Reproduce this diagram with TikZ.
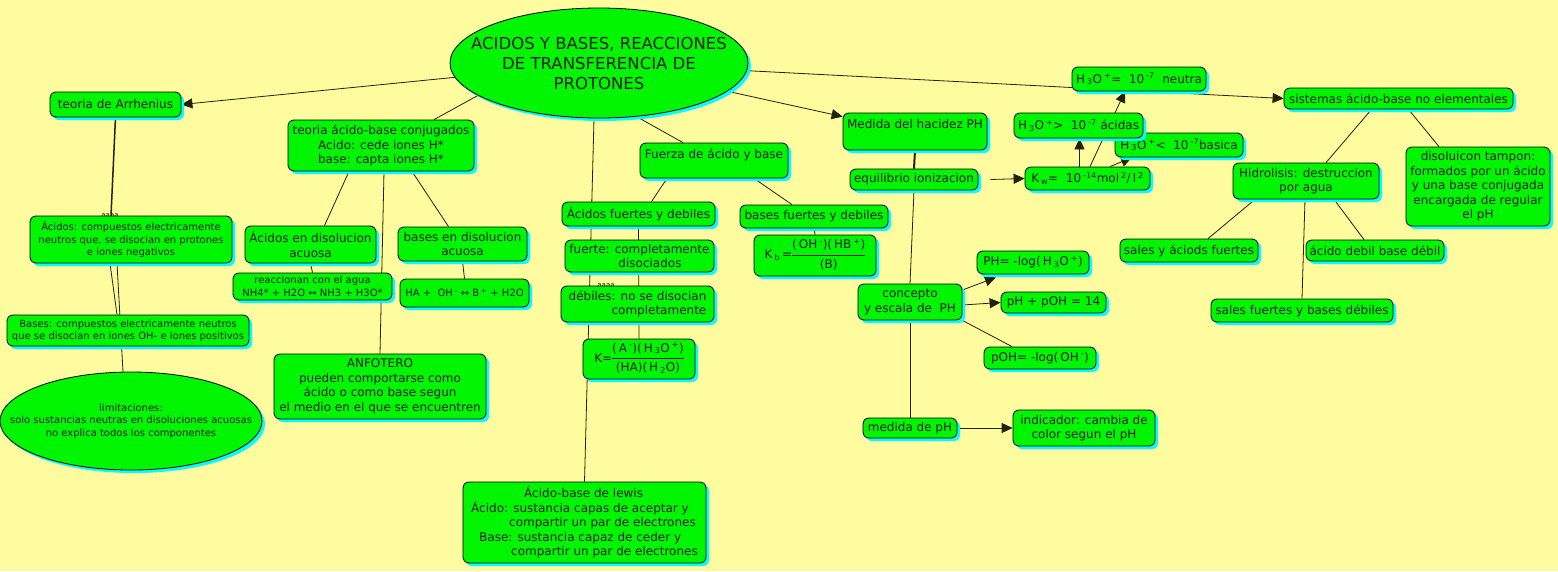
\documentclass[tikz,border=0pt]{standalone}
\usepackage{fontspec}
\setmainfont{DejaVu Sans}
\usetikzlibrary{shapes.geometric,shadows,arrows.meta}
\definecolor{bgc}{HTML}{FFFB9F}
\definecolor{boxgreen}{HTML}{00F500}
\definecolor{shadowc}{HTML}{00FFFF}
\definecolor{textc}{HTML}{102000}
\definecolor{linec}{HTML}{222200}
\newcommand\myfrac[2]{\begin{tabular}{@{}c@{}}#1\\[2pt]\hline\rule{0pt}{13pt}#2\end{tabular}}
\newcommand\sub[1]{\,\textsubscript{#1}}
\newcommand\sups[1]{\,\textsuperscript{#1}}
\pgfdeclarelayer{bg}
\pgfdeclarelayer{lines}
\pgfsetlayers{bg,lines,main}
\tikzset{
  box/.style={draw=black, line width=0.8pt, rounded corners=6pt, fill=boxgreen, text=textc,
    inner sep=2pt, align=center, font=\fontsize{12}{14.5}\selectfont,
    drop shadow={shadow xshift=3pt, shadow yshift=-3pt, fill=shadowc, opacity=1}},
  oval/.style={ellipse, draw=black, line width=0.8pt, fill=boxgreen, inner sep=0pt,
    drop shadow={shadow xshift=3pt, shadow yshift=-3pt, fill=shadowc, opacity=1}},
  small/.style={font=\fontsize{10}{12.5}\selectfont},
  link/.style={draw=linec, line width=0.8pt},
  arrowlink/.style={link, -{Triangle[length=11pt,width=10pt]}},
  tiny/.style={text=textc, font=\fontsize{7}{7}\selectfont, inner sep=0pt},
}
\begin{document}
\begin{tikzpicture}[x=1pt,y=-1pt]
\useasboundingbox (0,0) rectangle (1558,571);
\begin{pgfonlayer}{bg}
\fill[bgc] (0,0) rectangle (1558,571);
\end{pgfonlayer}

% title
\node[oval, minimum width=298pt, minimum height=110pt,
  label={[text=textc, align=center, font=\fontsize{16.5}{20}\selectfont]center:{ACIDOS Y BASES, REACCIONES\\DE TRANSFERENCIA DE\\PROTONES}}] (title) at (599,63) {};

% left column
\node[box, minimum width=131pt, minimum height=25pt] (arrh) at (115.5,104.5) {teoria de Arrhenius};
\node[box, small, minimum width=202pt, minimum height=47pt] (acA) at (131,239.5) {Ácidos: compuestos electricamente\\neutros que, se disocian en protones\\e iones negativos};
\node[box, small, minimum width=242pt, minimum height=31pt] (basA) at (128,330.5) {Bases: compuestos electricamente neutros\\que se disocian en iones OH- e iones positivos};
\node[oval, minimum width=262pt, minimum height=98pt,
  label={[text=textc, align=center, font=\fontsize{10}{12.5}\selectfont]center:{limitaciones:\\solo sustancias neutras en disoluciones acuosas\\no explica todos los componentes}}] (limit) at (131,421) {};

% conjugados
\node[box, minimum width=186pt, minimum height=51pt] (conj) at (381,145.5) {teoria ácido-base conjugados\\Acido: cede iones H*\\base: capta iones H*};
\node[box, minimum width=131pt, minimum height=37pt] (acdis) at (310.5,244.5) {Ácidos en disolucion\\acuosa};
\node[box, small, minimum width=159pt, minimum height=27pt] (reac) at (312.5,286.5) {reaccionan con el agua\\NH4* + H2O ↔ NH3 + H3O*};
\node[box, minimum width=129pt, minimum height=34pt] (bdis) at (462.5,244) {bases en disolucion\\acuosa};
\node[box, small, minimum width=129pt, minimum height=28pt] (ha) at (464.5,293) {HA +\ \ OH\sups{-} ↔ B\sups{+} + H2O};
\node[box, minimum width=212pt, minimum height=65pt] (anfo) at (380,386.5) {ANFOTERO\\pueden comportarse como\\ácido o como base segun\\el medio en el que se encuentren};

% fuerza
\node[box, minimum width=148pt, text height=12pt, text depth=17pt, inner ysep=3pt] (fuerza) at (714,160.5) {Fuerza de ácido y base};
\node[box, minimum width=153pt, minimum height=24pt] (acfd) at (638.5,214) {Ácidos fuertes y debiles};
\node[box, minimum width=149pt, minimum height=32pt] (fuerte) at (639.5,256) {fuerte: completamente\\\hspace*{21pt}disociados};
\node[box, minimum width=153pt, minimum height=36pt, align=right] (debil) at (637.5,304) {débiles: no se disocian\\completamente};
\node[box, minimum width=112pt, minimum height=40pt, inner sep=1pt] (kfrac) at (639,359) {K=\myfrac{(\,A\sups{-})(\,H\sub{3}O\sups{+})}{(HA)(\,H\sub{2}O)}};
\node[box, minimum width=148pt, minimum height=23pt] (bfd) at (814,216.5) {bases fuertes y debiles};
\node[box, minimum width=122pt, minimum height=41pt, inner sep=1pt] (kb) at (815,255.5) {K\sub{b}\,=\myfrac{(\,OH\sups{-})(\,HB\sups{+})}{(B)}};
\node[box, minimum width=243pt, minimum height=81pt, align=left] (lewis) at (584.5,522.5) {\hspace*{53pt}Ácido-base de lewis\\Ácido: sustancia capas de aceptar y\\\hspace*{38pt}compartir un par de electrones\\\hspace*{8pt}Base: sustancia capaz de ceder y\\\hspace*{40pt}compartir un par de electrones};

% pH
\node[box, minimum width=144pt, text height=12pt, text depth=19pt, inner ysep=3pt] (medida) at (915,131.5) {Medida del hacidez PH};
\node[box, minimum width=128pt, minimum height=21pt] (equil) at (914,179.5) {equilibrio ionizacion};
\node[box, minimum width=104pt, minimum height=36pt] (conc) at (910,302) {concepto\\y escala de\ \ PH};
\node[box, minimum width=94pt, minimum height=20pt] (medph) at (910,428) {medida de pH};
\node[box, minimum width=142pt, minimum height=36pt] (ind) at (1084,428) {indicador: cambia de\\color segun el pH};
\node[box, minimum width=112pt, minimum height=23pt] (phlog) at (1033,262.5) {PH= -log(\,H\sub{3}O\sups{+})};
\node[box, minimum width=105pt, minimum height=21pt] (phpoh) at (1053.5,302.5) {pH + pOH = 14};
\node[box, minimum width=112pt, minimum height=22pt] (poh) at (1040,358) {pOH= -log(\,OH\sups{-})};
\node[box, minimum width=125pt, minimum height=23pt] (kw) at (1087.5,178.5) {K\sub{w}=\ \ 10\sups{-14}mol\sups{2}/\,l\sups{2}};
\node[box, minimum width=128pt, minimum height=24pt] (basica) at (1179,145) {H\sub{3}O\sups{+}<\ \ 10\sups{-7}basica};
\node[box, minimum width=129pt, minimum height=25pt] (acidas) at (1078.5,125.5) {H\sub{3}O\sups{+}>\ \ 10\sups{-7} ácidas};
\node[box, minimum width=134pt, minimum height=24pt] (neutra) at (1139,79) {H\sub{3}O\sups{+}=\ \ 10\sups{-7}\ \ neutra};

% sistemas
\node[box, minimum width=229pt, minimum height=21pt] (sist) at (1398.5,98.5) {sistemas ácido-base no elementales};
\node[box, minimum width=146pt, minimum height=36pt] (hidro) at (1306,181) {Hidrolisis: destruccion\\por agua};
\node[box, minimum width=144pt, minimum height=79pt] (tampon) at (1478,186.5) {disoluicon tampon:\\formados por un ácido\\y una base conjugada\\encargada de regular\\el pH};
\node[box, minimum width=138pt, minimum height=23pt] (sya) at (1189,250.5) {sales y áciods fuertes};
\node[box, minimum width=138pt, minimum height=21pt] (adbd) at (1375,250.5) {ácido debil base débil};
\node[box, minimum width=182pt, minimum height=23pt] (sfbd) at (1302,310.5) {sales fuertes y bases débiles};

\begin{pgfonlayer}{lines}
\node[tiny] (aa1) at (110,216) {aaaa};
\node[tiny] (aa2) at (606,286) {aaaa};
% title links
\draw[arrowlink] (title) -- (arrh.east);
\draw[link] (title.195) -- ([xshift=53pt]conj.north);
\draw[link] ([xshift=-5pt]title.south) -- (lewis.north);
\draw[link] (title.305) -- ([xshift=-31pt]fuerza.north);
\draw[arrowlink] (title) -- ([yshift=-4pt]medida.north west);
\draw[arrowlink] (title) -- (sist.west);
% left
\draw[link, line width=1.5pt] (arrh.south) -- ([xshift=-20pt]acA.north);
\draw[link] ([xshift=-21pt]acA.south) -- ([xshift=-11pt]basA.north);
\draw[link] ([xshift=-14pt]acA.south) -- ([xshift=-8pt]limit.north);
% conjugados
\draw[link] ([xshift=-32pt]conj.south) -- ([xshift=14pt]acdis.north);
\draw[link] ([xshift=31pt]conj.south) -- ([xshift=-14pt]bdis.north);
\draw[link] ([xshift=3pt]conj.south) -- (anfo.north);
\draw[link] (acdis.south) -- (reac.north);
\draw[link] (bdis.south) -- (ha.north);
% fuerza
\draw[link] ([xshift=-47pt]fuerza.south) -- ([xshift=13pt]acfd.north);
\draw[link] ([xshift=40pt]fuerza.south) -- ([xshift=-22pt]bfd.north);
\draw[link] (bfd.south) -- (kb.north);
\draw[link] (acfd.south) -- (kfrac.north);
% pH
\draw[link, line width=2pt] (medida.south) -- (equil.north);
\draw[link] (equil.south) -- (conc.north);
\draw[link] (conc.south) -- (medph.north);
\draw[arrowlink] ([xshift=12pt]equil.east) -- (kw.west);
\draw[arrowlink] ([xshift=-8pt]kw.north) -- ([xshift=1pt]acidas.south);
\draw[arrowlink] ([xshift=2.5pt]kw.north) -- ([xshift=-14pt]neutra.south);
\draw[arrowlink] ([xshift=22.5pt]kw.north) -- ([xshift=-47pt]basica.south);
\draw[arrowlink] ([yshift=12pt]conc.east) -- ([xshift=-37pt,yshift=-3pt]phlog.south);
\draw[arrowlink] ([yshift=-3pt]conc.east) -- (phpoh.west);
\draw[link] (conc.south east) -- ([xshift=-28pt]poh.north);
\draw[arrowlink] (medph.east) -- (ind.west);
% sistemas
\draw[link] ([xshift=-27pt]sist.south) -- ([xshift=20pt]hidro.north);
\draw[link] ([xshift=10pt]sist.south) -- ([xshift=-39pt]tampon.north);
\draw[link] ([xshift=-51pt]hidro.south) -- ([xshift=19pt]sya.north);
\draw[link] ([xshift=-1pt]hidro.south) -- (sfbd.north);
\draw[link] ([xshift=28pt]hidro.south) -- ([xshift=-11pt]adbd.north);
\end{pgfonlayer}
\end{tikzpicture}
\end{document}
